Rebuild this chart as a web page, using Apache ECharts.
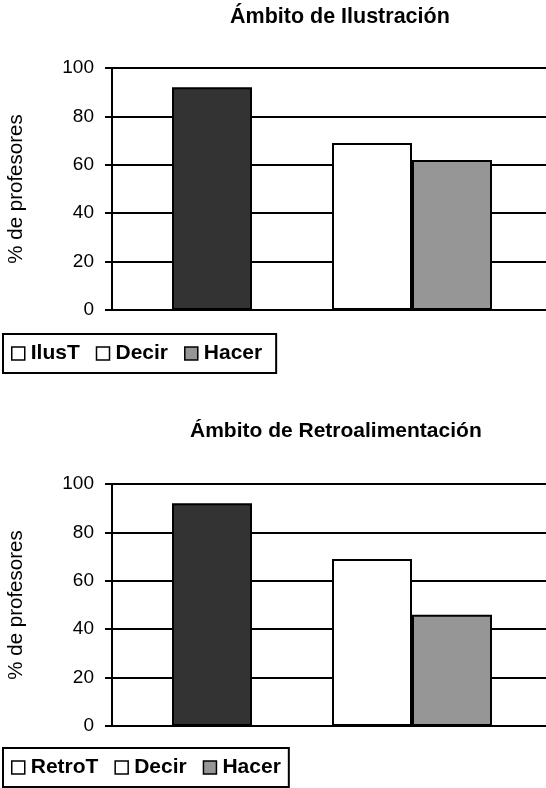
<!DOCTYPE html>
<html><head><meta charset="utf-8">
<script src="https://cdn.jsdelivr.net/npm/echarts@6/dist/echarts.min.js"></script>
<style>html,body{margin:0;padding:0;background:#fff}#c{width:546px;height:788px}</style>
</head><body><div id="c"></div>
<script>
const titles = ['Ámbito de Ilustración', 'Ámbito de Retroalimentación'];
const yName = '% de profesores';
const yMin = 0, yMax = 100, yStep = 20;
const slots = ['Tipo', 'Modo', ''];
const ilusT  = [92, null, null];
const decir1 = [null, 69, null];
const hacer1 = [null, 62, null];
const retroT = [92, null, null];
const decir2 = [null, 69, null];
const hacer2 = [null, 46, null];
const legend1 = ['IlusT', 'Decir', 'Hacer'];
const legend2 = ['RetroT', 'Decir', 'Hacer'];

const FONT = 'Liberation Sans, Arial, sans-serif';
const COL = { dark: '#333333', white: '#ffffff', gray: '#969696' };
const legendIconColors = ['#ffffff', '#ffffff', '#969696'];

const chart = echarts.init(document.getElementById('c'), null, { renderer: 'canvas' });

function gridOpt(top) { return { left: 112, top: top, width: 600, height: 242, outerBoundsMode: 'none', containLabel: false }; }
function yAxisOpt(gi) {
  return {
    type: 'value', gridIndex: gi, min: yMin, max: yMax, interval: yStep,
    name: yName, nameLocation: 'middle', nameGap: 85,
    nameTextStyle: { fontSize: 20.5, color: '#000', fontFamily: FONT },
    axisLine: { show: true, lineStyle: { color: '#000', width: 2 } },
    axisTick: { show: true, length: 7, lineStyle: { color: '#000', width: 2 } },
    axisLabel: { fontSize: 19, color: '#000', margin: 18, fontFamily: FONT },
    splitLine: { show: true, lineStyle: { color: '#000', width: 2 } }
  };
}
function xAxisOpt(gi, show) {
  return {
    type: 'category', gridIndex: gi, data: slots, show: show,
    axisLine: { show: true, onZero: false, lineStyle: { color: '#000', width: 2 } },
    axisTick: { show: false }, axisLabel: { show: false }, splitLine: { show: false }
  };
}
function barSeries(name, data, xi, yi, color) {
  return {
    type: 'bar', name: name, data: data, xAxisIndex: xi, yAxisIndex: yi,
    barWidth: 80, barGap: '0%', animation: false,
    itemStyle: { color: color, borderColor: '#000', borderWidth: 2 }
  };
}
function legendOpt(names, top, gap, padRight) {
  return {
    left: 3, top: top, orient: 'horizontal',
    padding: [9, padRight, 9, 8], itemGap: gap,
    borderColor: '#000', borderWidth: 2, backgroundColor: '#fff',
    icon: 'rect', itemWidth: 13, itemHeight: 13,
    selectedMode: false,
    textStyle: { fontSize: 21, fontWeight: 'bold', color: '#000', fontFamily: FONT, padding: [0, 0, 0, 1] },
    data: names.map((n, i) => ({ name: n, itemStyle: { color: legendIconColors[i], borderColor: '#000', borderWidth: 1.5 } }))
  };
}

chart.setOption({
  animation: false,
  backgroundColor: '#fff',
  title: [
    { text: titles[0], left: 230, top: 6, padding: 0, textStyle: { fontSize: 21.5, fontWeight: 'bold', color: '#000', fontFamily: FONT } },
    { text: titles[1], left: 190, top: 421, padding: 0, textStyle: { fontSize: 21, fontWeight: 'bold', color: '#000', fontFamily: FONT } }
  ],
  legend: [legendOpt(legend1, 334, 16, 14), legendOpt(legend2, 748, 16, 8)],
  grid: [gridOpt(68), gridOpt(484)],
  xAxis: [xAxisOpt(0, true), xAxisOpt(0, false), xAxisOpt(1, true), xAxisOpt(1, false)],
  yAxis: [yAxisOpt(0), yAxisOpt(1)],
  series: [
    barSeries(legend1[0], ilusT, 0, 0, COL.dark),
    barSeries(legend1[1], decir1, 1, 0, COL.white),
    barSeries(legend1[2], hacer1, 1, 0, COL.gray),
    barSeries(legend2[0], retroT, 2, 1, COL.dark),
    barSeries(legend2[1], decir2, 3, 1, COL.white),
    barSeries(legend2[2], hacer2, 3, 1, COL.gray)
  ]
});
</script></body></html>
